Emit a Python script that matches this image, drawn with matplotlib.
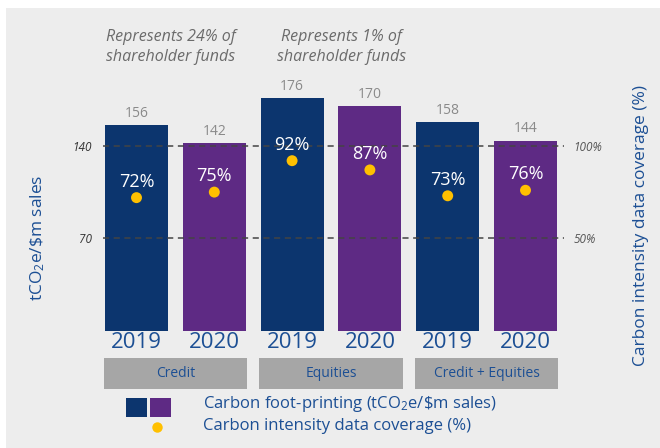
import matplotlib
matplotlib.use("Agg")
import matplotlib.pyplot as plt
from matplotlib.patches import Rectangle
from matplotlib.transforms import blended_transform_factory
from matplotlib.lines import Line2D

FONT = "Open Sans"
plt.rcParams['font.family'] = [FONT, 'DejaVu Sans']
plt.rcParams['mathtext.fontset'] = 'custom'
plt.rcParams['mathtext.rm'] = FONT
plt.rcParams['mathtext.it'] = FONT + ':italic'

# ---- data ----
years = ["2019", "2020", "2019", "2020", "2019", "2020"]
groups = ["Credit", "Equities", "Credit + Equities"]
footprint = [156, 142, 176, 170, 158, 144]
coverage = [72, 75, 92, 87, 73, 76]
annotations = ["Represents 24% of\nshareholder funds", "Represents 1% of\nshareholder funds"]
left_ticks = [70, 140]
right_ticks = [50, 100]

NAVY = "#0c356e"
PURPLE = "#5e2a84"
GOLD = "#ffc000"
BG = "#ededed"
BLUE = "#1c4f94"
BOXGRAY = "#a6a6a6"
bar_colors = [NAVY, PURPLE] * 3

W, H = 660, 448
fig = plt.figure(figsize=(W / 100, H / 100), dpi=100)
fig.patch.set_facecolor("white")

def fx(x):
    return x / W

def fy(y):
    return 1 - y / H

# background panel
bgax = fig.add_axes([0, 0, 1, 1], zorder=-10)
bgax.set_axis_off()
bgax.set_xlim(0, 1)
bgax.set_ylim(0, 1)
bgax.add_patch(Rectangle((fx(6), 0), 1 - fx(6), fy(8), facecolor=BG, edgecolor="none"))

# axes placement (pixels)
ax_l, ax_r, ax_b, ax_t = 100, 565, 330.7, 66.7
ax = fig.add_axes([fx(ax_l), fy(ax_b), fx(ax_r - ax_l), (ax_b - ax_t) / H])
ax.set_facecolor("none")
px_per_unit = 77.8
x0 = 136.5
ax.set_xlim((ax_l - x0) / px_per_unit, (ax_r - x0) / px_per_unit)
ymax = 200
ax.set_ylim(0, ymax)

xs = list(range(len(footprint)))
ax.bar(xs, footprint, width=0.81, color=bar_colors, zorder=2)
for x, v in zip(xs, footprint):
    ax.annotate(str(v), (x, v), xytext=(0, 3), textcoords="offset points",
                ha="center", va="bottom", fontsize=10, color="#8a8a8a")

# dashed reference lines
for t in left_ticks:
    ax.plot([-0.43, 5.5], [t, t], ls=(0, (4, 3)), color="#444444", lw=1.1, zorder=3)

for s in ax.spines.values():
    s.set_visible(False)
ax.set_yticks(left_ticks)
ax.set_yticklabels([str(t) for t in left_ticks], fontstyle="italic", fontsize=8.5, color="#333333")
ax.tick_params(axis="y", length=0, pad=6)
ax.set_xticks(xs)
ax.set_xticklabels(years, fontsize=16, color=BLUE)
ax.tick_params(axis="x", length=0, pad=1)
ax.set_ylabel("tCO$_2$e/\\$m sales", fontsize=12.5, color=BLUE)
ax.yaxis.set_label_coords((47 - ax_l) / (ax_r - ax_l), (ax_b - 238) / (ax_b - ax_t))

# twin axis for coverage
ax2 = ax.twinx()
ax2.set_ylim(0, ymax / 140 * 100)
for s in ax2.spines.values():
    s.set_visible(False)
ax2.set_yticks(right_ticks)
ax2.set_yticklabels([f"{t}%" for t in right_ticks], fontstyle="italic", fontsize=8.5, color="#555555")
ax2.tick_params(axis="y", length=0, pad=6)
ax2.scatter(xs, coverage, s=62, color=GOLD, zorder=5, edgecolors="none")
for x, c in zip(xs, coverage):
    ax2.annotate(f"{c}%", (x, c), xytext=(0, 5), textcoords="offset points",
                 ha="center", va="bottom", fontsize=13, color="white", zorder=6)
ax2.set_ylabel("Carbon intensity data coverage (%)", fontsize=12.5, color=BLUE)
ax2.yaxis.set_label_coords((633 - ax_l) / (ax_r - ax_l), (ax_b - 226) / (ax_b - ax_t))

# group boxes
bt = blended_transform_factory(ax.transData, fig.transFigure)
for i, g in enumerate(groups):
    c = 2 * i + 0.5
    ax.add_patch(Rectangle((c - 0.92, fy(388.7)), 1.84, (388.7 - 357.7) / H, transform=bt,
                           facecolor=BOXGRAY, edgecolor="none", clip_on=False))
    ax.text(c, fy(373), g, transform=bt, ha="center", va="center", fontsize=10, color=BLUE)

# annotations
ann_x = [171, 341.5]
for a, axp in zip(annotations, ann_x):
    ax.text((axp - x0) / px_per_unit, fy(47), a,
            transform=bt, ha="center", va="center", fontsize=11.5, fontstyle="italic",
            color="#6b6b6b", linespacing=1.3)

# legend
fig.patches.append(Rectangle((fx(126), fy(417)), fx(21), 19 / H, transform=fig.transFigure,
                             facecolor=NAVY, edgecolor="none"))
fig.patches.append(Rectangle((fx(150), fy(417)), fx(21), 19 / H, transform=fig.transFigure,
                             facecolor=PURPLE, edgecolor="none"))
fig.lines.append(Line2D([fx(157)], [fy(427)], transform=fig.transFigure, marker="o",
                        markersize=7.5, color=GOLD, markeredgewidth=0, linestyle="none"))
fig.text(fx(203), fy(404), "Carbon foot-printing (tCO$_2$e/\\$m sales)", ha="left", va="center",
         fontsize=12, color=BLUE)
fig.text(fx(203), fy(426), "Carbon intensity data coverage (%)", ha="left", va="center",
         fontsize=12, color=BLUE)

fig.savefig("out.png", dpi=100, facecolor=fig.get_facecolor())
